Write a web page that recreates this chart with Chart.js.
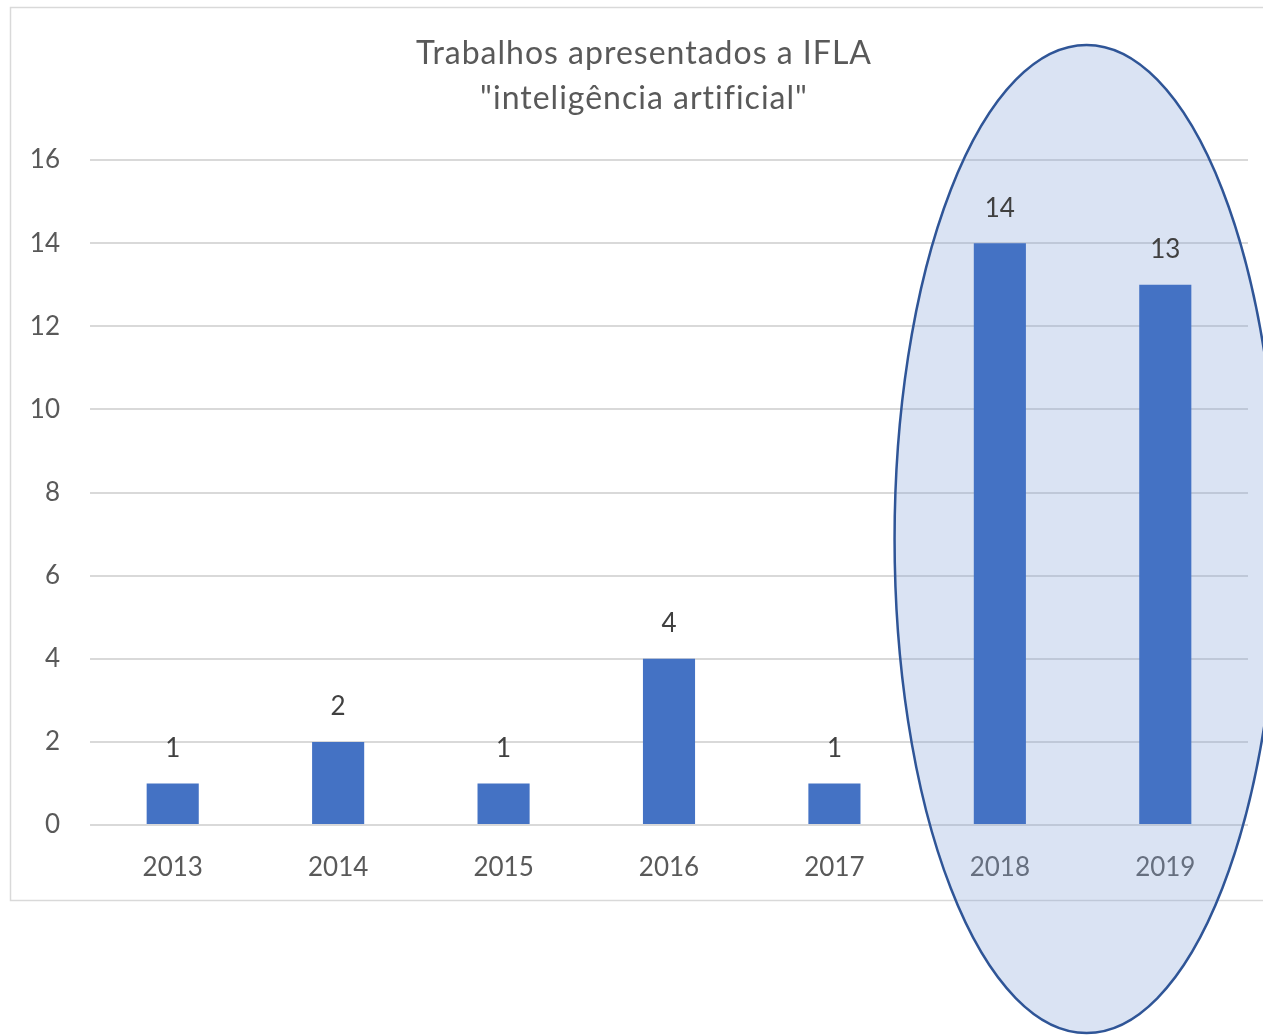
<!DOCTYPE html>
<html>
<head>
<meta charset="utf-8">
<script src="https://cdn.jsdelivr.net/npm/chart.js@4.4.1/dist/chart.umd.min.js"></script>
<style>
  html, body { margin: 0; padding: 0; background: #ffffff; }
  #wrap { position: relative; width: 1263px; height: 1035px; }
</style>
</head>
<body>
<div id="wrap"><canvas id="c" width="1263" height="1035"></canvas></div>
<script>
// Papers presented to IFLA on "artificial intelligence", per year
const years = ['2013', '2014', '2015', '2016', '2017', '2018', '2019'];
const papers = [1, 2, 1, 4, 1, 14, 13];
const titleLines = ['Trabalhos apresentados a IFLA', '"inteligência artificial"'];
const yMax = 16;
const yStep = 2;
// the years highlighted by the oval
const highlighted = ['2018', '2019'];

const FONT = "Lato, 'Open Sans', sans-serif";

// outer frame and title
const framePlugin = {
  id: 'frame',
  beforeDraw(chart) {
    const ctx = chart.ctx;
    ctx.save();
    ctx.fillStyle = '#ffffff';
    ctx.fillRect(0, 0, chart.width, chart.height);
    ctx.strokeStyle = '#d9d9d9';
    ctx.lineWidth = 1.5;
    ctx.strokeRect(10.5, 7.5, 1300, 893);
    ctx.fillStyle = '#595959';
    ctx.font = '32px ' + FONT;
    ctx.letterSpacing = '1px';
    ctx.textAlign = 'center';
    ctx.textBaseline = 'middle';
    ctx.fillText(titleLines[0], 644, 54);
    ctx.fillText(titleLines[1], 644, 99);
    ctx.restore();
  }
};

// translucent oval around the highlighted years, drawn over the grid and under the bars
const ovalPlugin = {
  id: 'oval',
  beforeDatasetsDraw(chart) {
    const x = chart.scales.x;
    const first = x.getPixelForValue(years.indexOf(highlighted[0]));
    const last = x.getPixelForValue(years.indexOf(highlighted[highlighted.length - 1]));
    const cx = (first + last) / 2 + 4;
    const cy = 539;
    const rx = 192;
    const ry = 494;
    const ctx = chart.ctx;
    ctx.save();
    ctx.beginPath();
    ctx.ellipse(cx, cy, rx, ry, 0, 0, Math.PI * 2);
    ctx.fillStyle = 'rgba(132, 162, 215, 0.3)';
    ctx.fill();
    ctx.lineWidth = 2.5;
    ctx.strokeStyle = '#2f5597';
    ctx.stroke();
    ctx.restore();
  }
};

// value labels above each bar
const valueLabels = {
  id: 'valueLabels',
  afterDatasetsDraw(chart) {
    const ctx = chart.ctx;
    const meta = chart.getDatasetMeta(0);
    ctx.save();
    ctx.fillStyle = '#404040';
    ctx.font = '26px ' + FONT;
    ctx.textAlign = 'center';
    ctx.textBaseline = 'middle';
    meta.data.forEach((bar, i) => {
      ctx.fillText(String(papers[i]), bar.x, bar.y - 35);
    });
    ctx.restore();
  }
};

new Chart(document.getElementById('c'), {
  type: 'bar',
  data: {
    labels: years,
    datasets: [{
      data: papers,
      backgroundColor: '#4472c4',
      borderWidth: 0,
      barPercentage: 0.315,
      categoryPercentage: 1.0
    }]
  },
  options: {
    responsive: false,
    animation: false,
    devicePixelRatio: 1,
    layout: { padding: { left: 0, right: 15, top: 160, bottom: 150 } },
    plugins: {
      legend: { display: false },
      title: { display: false },
      tooltip: { enabled: false }
    },
    scales: {
      x: {
        grid: { display: false },
        border: { display: false },
        ticks: {
          color: '#595959',
          font: { family: "'Liberation Sans Narrow', " + FONT, size: 26 },
          padding: 19,
          maxRotation: 0
        },
        afterFit(scale) { scale.height = 60; }
      },
      y: {
        min: 0,
        max: yMax,
        ticks: {
          stepSize: yStep,
          color: '#595959',
          font: { family: FONT, size: 26 },
          padding: 30
        },
        grid: { color: '#d9d9d9', lineWidth: 2, drawTicks: false },
        border: { display: false },
        afterFit(scale) { scale.width = 90; }
      }
    }
  },
  plugins: [framePlugin, ovalPlugin, valueLabels]
});
</script>
</body>
</html>
